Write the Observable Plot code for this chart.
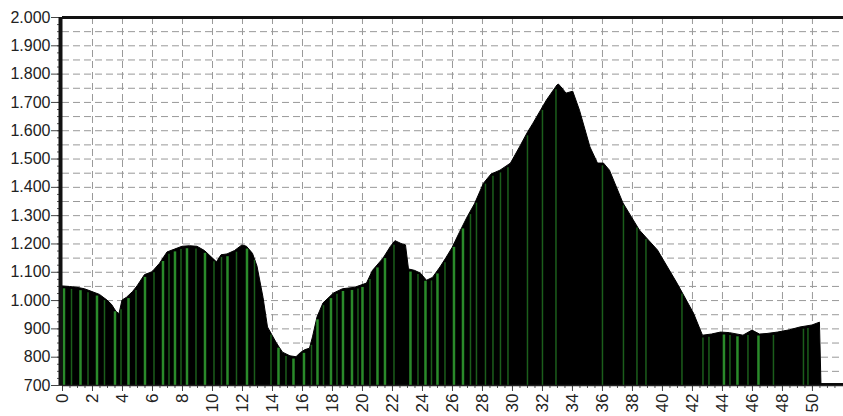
<!DOCTYPE html>
<html><head><meta charset="utf-8">
<script src="https://cdn.jsdelivr.net/npm/d3@7"></script>
<script src="https://cdn.jsdelivr.net/npm/@observablehq/plot@0.6"></script>
<style>body{margin:0;background:#fff}</style>
</head><body><div id="chart"></div>
<script>
// Elevation profile (km, metres)
const km = [0,0.5,1,1.5,2,2.5,3,3.3,3.6,3.8,4,4.3,4.7,5,5.5,6,6.5,7,7.5,8,8.5,9,9.5,10,10.3,10.6,11,11.5,12,12.3,12.7,13,13.4,13.7,14.3,14.7,15.2,15.6,15.9,16.2,16.5,16.7,17,17.4,18.1,18.7,19.5,20.3,20.7,21.4,21.9,22.2,22.6,22.9,23.1,23.5,23.9,24.3,24.7,25.2,25.6,26,26.5,27,27.5,28.1,28.6,29.2,29.9,30.5,31,31.4,32.3,33,33.1,33.4,33.6,34.05,34.5,35.2,35.7,36.1,36.5,37.4,38.5,39.7,41,42.1,42.7,43.3,43.9,44.5,45.4,46,46.5,47,47.7,48.5,49.2,50,50.5,50.6,52.1];
const elevation = [1050,1048,1045,1040,1030,1020,1000,985,960,952,1000,1010,1030,1050,1090,1100,1130,1170,1180,1190,1192,1190,1175,1150,1135,1160,1163,1175,1195,1190,1165,1120,1010,905,848,816,803,800,815,825,830,870,940,990,1025,1040,1045,1060,1105,1148,1190,1210,1200,1195,1110,1105,1095,1070,1080,1117,1150,1185,1240,1293,1340,1413,1445,1459,1484,1541,1590,1625,1707,1760,1763,1745,1731,1738,1671,1541,1484,1484,1459,1343,1247,1177,1060,954,876,880,887,885,876,894,880,882,887,895,905,912,922,705,705];
// Green sample stripes (km)
const brightStripes = [0.1,1.2,2.3,3.5,4.4,5.5,6.7,7.5,8.3,9.5,11,12.3,14.4,15.4,16.1,17,17.9,18.7,19.3,20,21,21.5,23.2,24.2,25,26.1,26.7,44.1,45,46.4];
const darkStripes = [0.6,1.7,2.8,3.9,4.9,6.1,7.1,7.9,8.9,10.1,10.6,11.6,12.8,13.9,14.9,16.6,17.4,18.3,19.7,20.5,22.1,23.7,24.6,25.5,27.2,27.6,28.2,28.7,29.2,29.7,31,32,32.9,36,37.4,38.3,38.9,41.3,42.7,43.1,44.5,45.7,47.4,49.4,49.7];
const yTicks = d3.range(700, 2001, 100);
const xTicks = d3.range(0, 51, 2);

const profile = km.map((k, i) => ({km: k, elev: elevation[i]}));
const topAt = d3.scaleLinear(km, elevation);
const fmt = d3.formatLocale({decimal: ",", thousands: ".", grouping: [3], currency: ["", ""]}).format(",");
const blank = () => "";

const chart = Plot.plot({
  width: 843, height: 416,
  marginLeft: 62, marginRight: 0, marginTop: 17, marginBottom: 31,
  x: {domain: [0, 52.07], label: null},
  y: {domain: [700, 2000], label: null},
  style: {fontFamily: "Arial, 'Liberation Sans', sans-serif", fontSize: "16px", color: "#222", background: "#fff"},
  marks: [
    Plot.ruleY(d3.range(700, 2001, 50), {stroke: "#999", strokeWidth: 1, strokeDasharray: "7,4"}),
    Plot.ruleX(d3.range(2, 52, 2), {stroke: "#999", strokeWidth: 1, strokeDasharray: "7,4"}),
    Plot.areaY(profile, {x: "km", y1: 700, y2: "elev", fill: "#000", stroke: "#000", strokeWidth: 1}),
    Plot.ruleX(darkStripes, {x: d => d, y1: 700, y2: d => topAt(d) - 8, stroke: "#1b5e1b", strokeWidth: 1.5}),
    Plot.ruleX(brightStripes, {x: d => d, y1: 700, y2: d => topAt(d) - 8, stroke: "#2a8a2a", strokeWidth: 2.5}),
    Plot.axisY(d3.range(700, 2001, 25), {tickSize: 5, tickFormat: blank, label: null, stroke: "#555"}),
    Plot.axisY(yTicks, {tickSize: 11, tickPadding: 1, tickFormat: fmt, label: null, stroke: "#444", fontSize: 16, letterSpacing: "-0.5px"}),
    Plot.axisX(d3.range(0, 52, 0.5), {tickSize: 3, tickFormat: blank, label: null, stroke: "#555"}),
    Plot.axisX(xTicks, {tickSize: 6, tickPadding: 2, tickRotate: -90, tickFormat: d => String(d), label: null, stroke: "#444", fontSize: 17}),
    Plot.ruleY([700], {stroke: "#222", strokeWidth: 1.5}),
    Plot.ruleY([2000], {stroke: "#111", strokeWidth: 3}),
    Plot.ruleX([0], {y1: 700, y2: 2000, dx: -2, stroke: "#111", strokeWidth: 4})
  ]
});
document.getElementById("chart").append(chart);
</script>
</body></html>
